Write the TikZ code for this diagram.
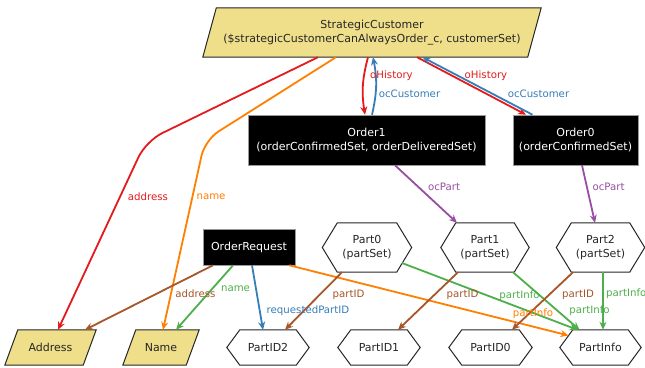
\documentclass[tikz,border=0pt]{standalone}
\usepackage{fontspec}
\setmainfont{DejaVu Sans}
\usetikzlibrary{arrows.meta,backgrounds}
\definecolor{cred}{HTML}{E41A1C}
\definecolor{cblue}{HTML}{377EB8}
\definecolor{cgreen}{HTML}{4DAF4A}
\definecolor{cpurple}{HTML}{984EA3}
\definecolor{corange}{HTML}{FF7F00}
\definecolor{cbrown}{HTML}{A65628}
\definecolor{scyellow}{HTML}{EFDF8A}
\newcommand\drawpara[2]{\begin{scope}[on background layer]\draw[yellowfill] ([xshift=#2]#1.north west) -- ([xshift=#2]#1.north east) -- ([xshift=-#2]#1.south east) -- ([xshift=-#2]#1.south west) -- cycle;\end{scope}}
\newcommand\drawhex[2]{\draw[shapeline] ([xshift=#2]#1.north west) -- ([xshift=-#2]#1.north east) -- (#1.east) -- ([xshift=-#2]#1.south east) -- ([xshift=#2]#1.south west) -- (#1.west) -- cycle;}
\tikzset{
  nodetext/.style={font=\fontsize{11}{13.5}\selectfont, text=black!85, inner sep=0pt, align=center},
  blackbox/.style={nodetext, rectangle, fill=black, draw=black!40, line width=0.6pt, text=white},
  plainbox/.style={nodetext, rectangle, draw=none},
  shapeline/.style={draw=black!85, line width=1pt},
  yellowfill/.style={shapeline, fill=scyellow},
  conn/.style={line width=1.8pt, -{Stealth[length=8pt,width=7pt]}},
  lbl/.style={font=\fontsize{10.2}{12}\selectfont, inner sep=0pt},
}
\begin{document}
\begin{tikzpicture}[x=1pt,y=-1pt]
\useasboundingbox (0,0) rectangle (645,367);
\begin{scope}[on background layer]
\fill[white] (0,0) rectangle (645,367);
\end{scope}

% nodes
\node[plainbox, minimum width=324.5pt, minimum height=49pt, font=\fontsize{11}{14.5}\selectfont] (sc) at (372,32.5)
  {StrategicCustomer\\(\$strategicCustomerCanAlwaysOrder\_c, customerSet)};
\drawpara{sc}{6.75pt}
\node[blackbox, minimum width=237pt, minimum height=50pt] (o1) at (366.5,140)
  {Order1\\(orderConfirmedSet, orderDeliveredSet)};
\node[blackbox, minimum width=125pt, minimum height=50pt] (o0) at (575.5,140)
  {Order0\\(orderConfirmedSet)};
\node[blackbox, minimum width=92pt, minimum height=36pt] (oreq) at (249,247) {OrderRequest};

\node[plainbox, minimum width=89pt, minimum height=49pt] (p0) at (367,247.5) {Part0\\(partSet)};
\node[plainbox, minimum width=88pt, minimum height=49pt] (p1) at (485,247.5) {Part1\\(partSet)};
\node[plainbox, minimum width=88pt, minimum height=49pt] (p2) at (600.5,247.5) {Part2\\(partSet)};
\drawhex{p0}{15pt}
\drawhex{p1}{15pt}
\drawhex{p2}{15pt}

\node[plainbox, minimum width=82pt, minimum height=35pt] (pid2) at (268,347.5) {PartID2};
\node[plainbox, minimum width=82pt, minimum height=35pt] (pid1) at (379,347.5) {PartID1};
\node[plainbox, minimum width=83pt, minimum height=35pt] (pid0) at (490.5,347.5) {PartID0};
\node[plainbox, minimum width=81pt, minimum height=35pt] (pinfo) at (600.5,347.5) {PartInfo};
\drawhex{pid2}{13pt}
\drawhex{pid1}{13pt}
\drawhex{pid0}{13pt}
\drawhex{pinfo}{13pt}

\node[plainbox, minimum width=78pt, minimum height=35pt] (addr) at (50.5,347.5) {Address};
\drawpara{addr}{6.5pt}
\node[plainbox, minimum width=63pt, minimum height=35pt] (name) at (161,347.5) {Name};
\drawpara{name}{6.5pt}

% connectors
\coordinate (b1) at (146,141);
\coordinate (b2) at (205,140);
\draw[conn, cred, rounded corners=18pt] ([xshift=-54pt]sc.south) -- (b1) -- ([xshift=7.5pt]addr.north);
\draw[conn, corange, rounded corners=16pt] ([xshift=-36pt]sc.south) -- (b2) -- ([xshift=2pt]name.north);

\draw[conn, cred] ([xshift=-4pt]sc.south) to[bend right=12] ([xshift=-1.5pt]o1.north);
\draw[conn, cblue] ([xshift=5.5pt]o1.north) to[bend right=12] ([xshift=1pt]sc.south);
\draw[conn, cred] ([xshift=45pt]sc.south) -- ([xshift=-49.5pt]o0.north);
\draw[conn, cblue] ([xshift=-43pt]o0.north) -- ([xshift=50.5pt]sc.south);

\draw[conn, cpurple] ([xshift=28.5pt]o1.south) -- ([xshift=-28pt]p1.north);
\draw[conn, cpurple] ([xshift=6.5pt]o0.south) -- ([xshift=-5.5pt]p2.north);

\draw[conn, cbrown] ([xshift=-36pt]oreq.south) -- ([xshift=34.5pt]addr.north);
\draw[conn, cgreen] ([xshift=-16pt]oreq.south) -- ([xshift=15pt]name.north);
\draw[conn, cblue] ([xshift=3pt]oreq.south) -- ([xshift=-5pt]pid2.north);
\draw[conn, corange] ([xshift=-6pt]oreq.south east) -- ([xshift=-32pt,yshift=12pt]pinfo.center);

\draw[conn, cbrown] ([xshift=-25pt]p0.south) -- ([xshift=17pt]pid2.north);
\draw[conn, cgreen] ([xshift=35pt,yshift=-15.5pt]p0.center) -- ([xshift=-23pt]pinfo.north);
\draw[conn, cbrown] ([xshift=-27pt]p1.south) -- ([xshift=19pt]pid1.north);
\draw[conn, cgreen] ([xshift=28pt]p1.south) -- ([xshift=-21pt]pinfo.north);
\draw[conn, cbrown] ([xshift=-27.5pt]p2.south) -- ([xshift=21.5pt]pid0.north);
\draw[conn, cgreen] ([xshift=2.5pt]p2.south) -- ([xshift=2.5pt]pinfo.north);

% labels
\node[lbl, text=cred] (l1) at (148,197) {address};
\node[lbl, text=corange] (l2) at (211,197) {name};
\node[lbl, text=cred] (l3) at (391.5,76) {oHistory};
\node[lbl, text=cblue] (l4) at (409.5,94) {ocCustomer};
\node[lbl, text=cred] (l5) at (486,76) {oHistory};
\node[lbl, text=cblue] (l6) at (538.5,94) {ocCustomer};
\node[lbl, text=cpurple] (l7) at (444,187) {ocPart};
\node[lbl, text=cpurple] (l8) at (608.5,187) {ocPart};
\node[lbl, text=cbrown] (l9) at (195.5,294) {address};
\node[lbl, text=cgreen] (l10) at (235.5,289) {name};
\node[lbl, text=cblue] (l11) at (308,310.5) {requestedPartID};
\node[lbl, text=cbrown] (l12) at (348.5,295) {partID};
\node[lbl, text=cbrown] (l13) at (462.5,295) {partID};
\node[lbl, text=cgreen] (l14) at (519.5,296) {partInfo};
\node[lbl, text=cbrown] (l15) at (578,295) {partID};
\node[lbl, text=cgreen, anchor=west] (l16) at (606,294) {partInfo};
\node[lbl, text=corange] (l17) at (533,314) {partInfo};
\node[lbl, text=cgreen] (l18) at (589.5,310.5) {partInfo};
\end{tikzpicture}
\end{document}
